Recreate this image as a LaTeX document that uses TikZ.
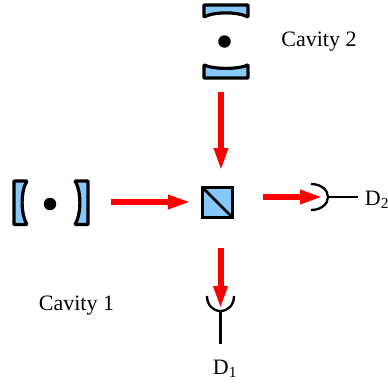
\documentclass[tikz,border=0pt]{standalone}
\usepackage{fontspec}
\setmainfont{Liberation Serif}
\usetikzlibrary{arrows.meta, positioning}
\definecolor{glass}{RGB}{135,200,250}

\begin{document}
\begin{tikzpicture}[
        x=1pt,y=-1pt,
        mirror/.style={draw=black,fill=glass,line width=3.2pt,line join=bevel},
        beam/.style={draw=red,line width=6pt,-{Triangle[length=23pt,width=13pt]}},
        wire/.style={draw=black,line width=2.3pt},
        atom/.style={circle,fill=black,inner sep=0pt,minimum size=12.5pt},
        label/.style={inner sep=0pt,font=\fontsize{22}{24}\selectfont},
        ]
        \useasboundingbox (0,0) rectangle (388,383);

        % cavity 2
        \path[mirror] (204,5) -- (248,5) -- (248,17) .. controls (238,11.5) and (214,11.5) .. (204,17) -- cycle;
        \path[mirror] (204,78) -- (248,78) -- (248,65) .. controls (238,69.5) and (214,69.5) .. (204,65) -- cycle;
        \node[atom] (atom_2) at (224.5,41.5) {};
        \node[label] (cav_2) at (319,42) {Cavity 2};

        % cavity 1
        \path[mirror] (14,181) -- (14,224.5) -- (27,224.5) .. controls (20.5,214) and (20.5,191) .. (27,181) -- cycle;
        \path[mirror] (88,181) -- (88,224.5) -- (75,224.5) .. controls (81.5,214) and (81.5,191) .. (75,181) -- cycle;
        \node[atom] (atom_1) at (50,204) {};
        \node[label] (cav_1) at (76.5,306) {Cavity 1};

        % beam splitter
        \node[draw=black,fill=glass,line width=3.2pt,minimum size=30pt,inner sep=0pt,outer sep=0pt] (bs) at (217.5,202.5) {};
        \draw[black,line width=2.6pt] (bs.north west) -- (bs.south east);

        % beams
        \coordinate (b_1a) at (111,202);
        \coordinate (b_1b) at (191,202);
        \coordinate (b_2a) at (221,92);
        \coordinate (b_2b) at (221,171);
        \coordinate (b_3a) at (263,197);
        \coordinate (b_3b) at (323,197);
        \coordinate (b_4a) at (220.5,248);
        \coordinate (b_4b) at (220.5,309);

        % detectors
        \coordinate (d_1) at (220.5,311);
        \coordinate (d_1e) at (220.5,344);
        \coordinate (d_2) at (328,197);
        \coordinate (d_2e) at (358,197);
        \draw[wire] (207,296) .. controls (207,305) and (213,311) .. (d_1) .. controls (228,311) and (234,305) .. (234,296);
        \draw[wire] (d_1) -- (d_1e);
        \draw[wire] (311,184) .. controls (321,184) and (328,190) .. (d_2) .. controls (328,204) and (321,210) .. (311,210);
        \draw[wire] (d_2) -- (d_2e);
        \node[label] (lab_1) at (225,369) {D\textsubscript{1}};
        \node[label] (lab_2) at (377,200) {D\textsubscript{2}};

        \draw[beam] (b_1a) -- (b_1b);
        \draw[beam] (b_2a) -- (b_2b);
        \draw[beam] (b_3a) -- (b_3b);
        \draw[beam] (b_4a) -- (b_4b);
      \end{tikzpicture}
\end{document}
